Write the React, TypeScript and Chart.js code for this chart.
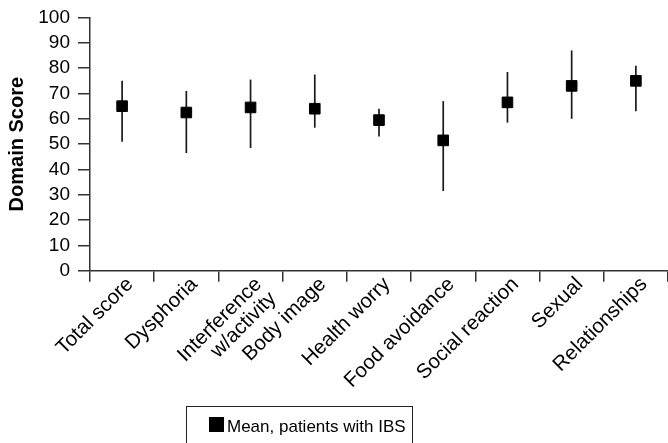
import React, { useEffect, useRef } from "react";
import { Chart, registerables } from "chart.js";

Chart.register(...registerables);

// ---- data ----
const categories: (string | string[])[] = [
  "Total score",
  "Dysphoria",
  ["Interference", "w/activity"],
  "Body image",
  "Health worry",
  "Food avoidance",
  "Social reaction",
  "Sexual",
  "Relationships",
];
const meanScores = [65, 62.5, 64.5, 64, 59.5, 51.5, 66.5, 73, 75];
const lowerBounds = [51, 46.5, 48.5, 56.5, 53, 31.5, 58.5, 60, 63];
const upperBounds = [75, 71, 75.5, 77.5, 64, 67, 78.5, 87, 81];
const seriesLabel = "Mean, patients with IBS";
const yAxisTitle = "Domain Score";
const yMin = 0;
const yMax = 100;
const yStep = 10;

const FONT = '"Liberation Sans", Arial, Helvetica, sans-serif';

const errorBarPlugin = {
  id: "errorBars",
  beforeDatasetsDraw(chart: any) {
    const { ctx, scales } = chart;
    const x = scales.x;
    const y = scales.y;
    ctx.save();
    ctx.strokeStyle = "#1a1a1a";
    ctx.lineWidth = 1.7;
    lowerBounds.forEach((lo, i) => {
      const px = x.getPixelForValue(i);
      ctx.beginPath();
      ctx.moveTo(px, y.getPixelForValue(lo));
      ctx.lineTo(px, y.getPixelForValue(upperBounds[i]));
      ctx.stroke();
    });
    ctx.restore();
  },
};

const boxedLegendPlugin = {
  id: "boxedLegend",
  afterDraw(chart: any) {
    const { ctx } = chart;
    const ds = chart.data.datasets[0];
    ctx.save();
    ctx.strokeStyle = "#222";
    ctx.lineWidth = 1;
    ctx.strokeRect(186.5, 406.5, 226, 60);
    ctx.fillStyle = ds.backgroundColor;
    ctx.fillRect(209, 417, 15, 15);
    ctx.fillStyle = "#000";
    ctx.font = `17px ${FONT}`;
    ctx.textBaseline = "alphabetic";
    ctx.textAlign = "left";
    ctx.fillText(ds.label, 227, 432);
    ctx.restore();
  },
};

export default function App() {
  const canvasRef = useRef<HTMLCanvasElement | null>(null);

  useEffect(() => {
    document.body.style.margin = "0";
    const canvas = canvasRef.current;
    if (!canvas) return;
    const axisColor = "#333";
    const chart = new Chart(canvas, {
      type: "line",
      data: {
        labels: categories as any,
        datasets: [
          {
            label: seriesLabel,
            data: meanScores,
            showLine: false,
            pointStyle: "rect",
            pointRadius: 7.5,
            pointHoverRadius: 7.5,
            backgroundColor: "#000",
            borderColor: "#000",
            borderWidth: 1,
          },
        ],
      },
      options: {
        responsive: false,
        animation: false,
        events: [],
        layout: { autoPadding: false, padding: { top: 6, left: 0, right: -2, bottom: 45 } },
        font: { family: FONT },
        scales: {
          x: {
            type: "category",
            offset: true,
            grid: {
              offset: true,
              drawOnChartArea: false,
              drawTicks: true,
              tickLength: 11,
              color: axisColor,
              lineWidth: 1.5,
            },
            border: { display: true, color: axisColor, width: 1.5 },
            ticks: {
              color: "#000",
              font: { family: FONT, size: 20.5, lineHeight: 1.0 },
              minRotation: 45,
              maxRotation: 45,
              padding: -8,
              labelOffset: 8,
              autoSkip: false,
            },
          },
          y: {
            min: yMin,
            max: yMax,
            ticks: {
              stepSize: yStep,
              color: "#000",
              font: { family: FONT, size: 19, lineHeight: 1.0 },
              padding: 8,
              autoSkip: false,
            },
            grid: {
              drawOnChartArea: false,
              drawTicks: true,
              tickLength: 12,
              color: axisColor,
              lineWidth: 1.5,
            },
            border: { display: true, color: axisColor, width: 1.5 },
            title: {
              display: true,
              text: yAxisTitle,
              color: "#000",
              font: { family: FONT, size: 20, weight: "bold" },
              padding: { top: 5, bottom: 1.3 },
            },
          },
        },
        plugins: {
          legend: { display: false },
          tooltip: { enabled: false },
        },
      },
      plugins: [errorBarPlugin, boxedLegendPlugin],
    });
    return () => chart.destroy();
  }, []);

  return (
    <div style={{ position: "absolute", left: 0, top: 0, width: 668, height: 443 }}>
      <canvas ref={canvasRef} width={668} height={443} style={{ display: "block" }} />
    </div>
  );
}
